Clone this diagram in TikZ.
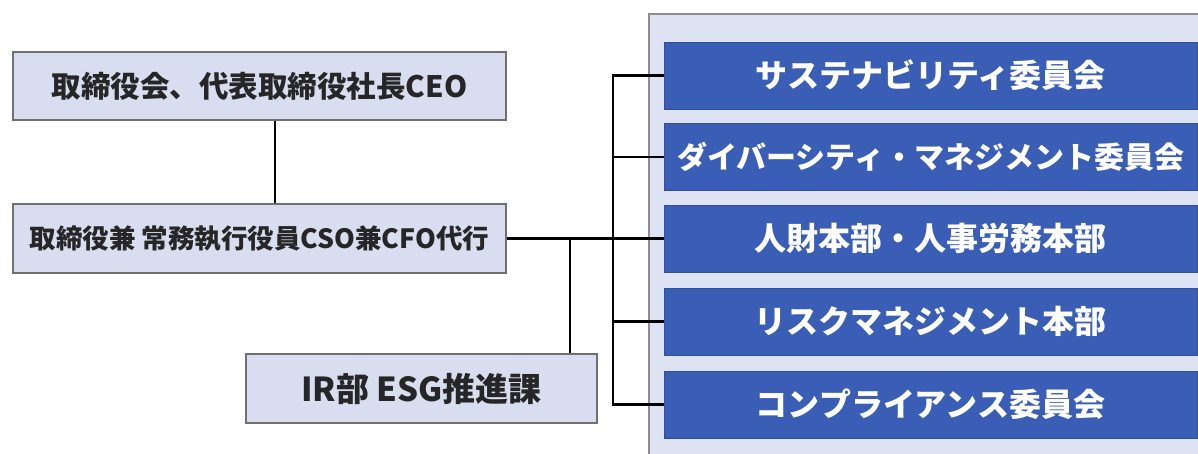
\documentclass[tikz,border=0pt]{standalone}
\usepackage{fontspec}
\newfontfamily\jp{Noto Sans CJK JP}
\definecolor{lightbox}{HTML}{D8DEEF}
\definecolor{panelbg}{HTML}{DDE3F2}
\definecolor{bluebox}{HTML}{3A5DB6}
\definecolor{boxline}{HTML}{707070}
\begin{document}
\begin{tikzpicture}[x=1pt,y=-1pt,
  lbox/.style={draw=boxline,line width=1.2pt,fill=lightbox,rectangle,inner sep=0pt,
    font=\jp\bfseries\fontsize{29.5}{34}\selectfont,text=black!85},
  bbox/.style={draw=bluebox!85!black,line width=0.8pt,fill=bluebox,rectangle,inner sep=0pt,
    minimum width=533pt,minimum height=67pt,
    font=\jp\bfseries\fontsize{32}{36}\selectfont,text=white},
  conn/.style={draw=black,line width=2.4pt}]
\useasboundingbox (0,0) rectangle (1198,453);
\clip (0,0) rectangle (1198,453);
\fill[white] (0,0) rectangle (1198,453);
% panel
\draw[fill=panelbg,draw=boxline!80,line width=1.2pt] (649,14) rectangle (1230,480);
% left boxes
\node[lbox,minimum width=493pt,minimum height=68pt] (top) at (259.5,86) {取締役会、代表取締役社長CEO};
\node[lbox,minimum width=493pt,minimum height=69pt,font=\jp\bfseries\fontsize{26.5}{30}\selectfont] (mid) at (259.5,238.5) {取締役兼 常務執行役員CSO兼CFO代行};
\node[lbox,minimum width=351pt,minimum height=69pt,font=\jp\bfseries\fontsize{33}{38}\selectfont] (ir) at (421.5,388.5) {IR部 ESG推進課};
% blue boxes
\node[bbox] (b1) at (930.5,75.5) {サステナビリティ委員会};
\node[bbox,font=\jp\bfseries\fontsize{30}{34}\selectfont] (b2) at (930.5,157) {ダイバーシティ・マネジメント委員会};
\node[bbox] (b3) at (930.5,238.5) {人財本部・人事労務本部};
\node[bbox] (b4) at (930.5,321.5) {リスクマネジメント本部};
\node[bbox] (b5) at (930.5,404.5) {コンプライアンス委員会};
% connectors
\coordinate (vx) at (275,0);
\coordinate (irx) at (570,0);
\coordinate (bus) at (613,0);
\draw[conn] (top.south -| vx) -- (mid.north -| vx);
\draw[conn] (mid.east) -- (b3.west);
\draw[conn] (irx |- mid.east) -- (ir.north -| irx);
\draw[conn] (b1.west) -- (b1.west -| bus) -- (b5.west -| bus) -- (b5.west);
\draw[conn] (b2.west -| bus) -- (b2.west);
\draw[conn] (b4.west -| bus) -- (b4.west);
\end{tikzpicture}
\end{document}
